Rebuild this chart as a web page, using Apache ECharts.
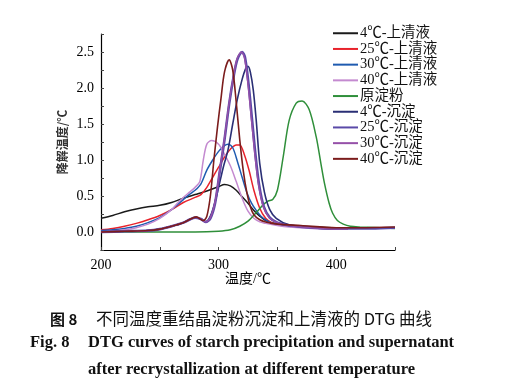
<!DOCTYPE html>
<html><head><meta charset="utf-8">
<script src="https://cdn.jsdelivr.net/npm/echarts@6/dist/echarts.min.js"></script>
<style>html,body{margin:0;padding:0;background:#fff}#c{width:512px;height:388px}</style>
</head><body><div id="c"></div>
<script>
// ---- data ----
const seriesNames = ['4℃-上清液','25℃-上清液','30℃-上清液','40℃-上清液','原淀粉','4℃-沉淀','25℃-沉淀','30℃-沉淀','40℃-沉淀'];

const sup4T = [200,210,220,230,240,250,260,270,280,290,300,305,310,315,320,325,330,335,340,350,360,380,400,410];
const sup4V = [0.19,0.23,0.28,0.32,0.35,0.37,0.41,0.47,0.52,0.57,0.63,0.66,0.64,0.58,0.49,0.40,0.30,0.22,0.16,0.11,0.09,0.07,0.06,0.06];

const sup25T = [200,210,220,230,240,250,260,270,280,285,290,295,300,305,310,315,318,322,326,330,335,340,345,350,360,380,400,410];
const sup25V = [0.03,0.05,0.08,0.12,0.17,0.23,0.31,0.41,0.48,0.52,0.62,0.76,0.90,1.04,1.15,1.21,1.21,1.07,0.85,0.58,0.33,0.19,0.13,0.10,0.08,0.06,0.05,0.05];

const sup30T = [200,210,220,230,240,250,260,265,270,275,280,285,290,295,300,305,308,312,316,320,324,328,332,336,340,345,350,360,380,400,410];
const sup30V = [0.02,0.03,0.05,0.08,0.13,0.20,0.31,0.38,0.45,0.52,0.58,0.67,0.86,1.00,1.12,1.20,1.22,1.17,0.98,0.76,0.55,0.40,0.30,0.22,0.17,0.12,0.10,0.08,0.06,0.05,0.05];

const sup40T = [200,210,220,230,240,250,260,265,270,275,280,284,287,290,294,300,305,310,315,320,325,330,335,340,350,360,380,400,410];
const sup40V = [0.00,0.01,0.03,0.06,0.11,0.19,0.31,0.40,0.48,0.55,0.62,0.70,1.00,1.22,1.27,1.22,1.08,0.92,0.70,0.47,0.29,0.19,0.14,0.12,0.09,0.07,0.05,0.04,0.04];

const rawT = [200,250,280,300,310,318,325,332,338,342,346,350,355,360,366,371,377,383,387,390,394,397,401,406,412,420,450];
const rawV = [0.00,0.00,0.00,0.01,0.03,0.08,0.15,0.27,0.38,0.43,0.45,0.58,1.05,1.55,1.79,1.82,1.70,1.32,0.95,0.68,0.40,0.26,0.16,0.11,0.08,0.07,0.05];

const pre4T = [200,220,240,250,260,270,275,280,285,289,293,297,300,304,308,312,316,320,323,325,327,329.5,332,335,339,343.5,349,360,380,400,410];
const pre4V = [0.00,0.01,0.02,0.04,0.08,0.13,0.17,0.20,0.18,0.14,0.22,0.42,0.62,0.90,1.14,1.50,1.85,2.12,2.27,2.30,2.22,1.97,1.55,0.95,0.55,0.31,0.19,0.10,0.06,0.04,0.04];

const pre25T = [200,220,240,250,260,270,275,280,285,289,293,297,301,305,309,313,316,320,322.5,325.5,328.5,331.5,334.5,338.5,343.5,350,360,380,400,430,450];
const pre25V = [0.00,0.01,0.02,0.04,0.08,0.13,0.17,0.20,0.18,0.14,0.19,0.40,0.84,1.28,1.78,2.18,2.40,2.50,2.42,2.05,1.55,1.05,0.65,0.35,0.20,0.13,0.09,0.06,0.05,0.05,0.06];

const pre30T = [200,220,240,250,260,270,275,280,285,289,293,297,301,305,309,313,316,319.5,322,325,328,331,334,338,343,350,360,380,400,410];
const pre30V = [0.00,0.01,0.02,0.04,0.08,0.13,0.17,0.20,0.18,0.14,0.20,0.42,0.86,1.30,1.80,2.20,2.42,2.50,2.42,2.05,1.55,1.05,0.65,0.35,0.20,0.13,0.09,0.06,0.04,0.04];

const pre40T = [200,220,240,250,260,270,275,281,287,290,293,296,299,302,305,309,312,315,318,321,324,327,330,335,340,350,370,400,420,450];
const pre40V = [0.00,0.01,0.02,0.04,0.08,0.13,0.17,0.21,0.16,0.22,0.50,1.00,1.45,1.85,2.22,2.39,2.25,1.80,1.28,0.85,0.55,0.35,0.24,0.17,0.14,0.11,0.09,0.06,0.06,0.07];

const colors = ['#1a1a1a','#e8222b','#1f5bb0','#c48ad0','#2f8f3a','#2a2f75','#5a4aa8','#9550a8','#7b1c1c'];

const xTickLabels = [200,300,400];
const yTickLabels = [0.0,0.5,1.0,1.5,2.0,2.5];

// ---- chart ----
const allT = [sup4T,sup25T,sup30T,sup40T,rawT,pre4T,pre25T,pre30T,pre40T];
const allV = [sup4V,sup25V,sup30V,sup40V,rawV,pre4V,pre25V,pre30V,pre40V];
const pair = (t,v)=>t.map((x,i)=>[x,v[i]]);
const widths = [1.5,1.5,1.5,1.5,1.5,1.6,2.6,1.4,1.6];

const serif = '"Liberation Serif","Noto Sans CJK SC",serif';
const chart = echarts.init(document.getElementById('c'), null, {renderer:'canvas'});
chart.setOption({
  animation:false,
  color: colors,
  grid:{left:101,right:117,top:34,bottom:138,containLabel:false},
  legend:{
    orient:'vertical', left:328, top:21,
    itemWidth:25, itemHeight:2, itemGap:1.2,
    icon:'rect',
    data: seriesNames,
    textStyle:{fontFamily:serif,fontSize:14.5,lineHeight:13,color:'#111',padding:[0,0,0,-3]},
  },
  xAxis:{
    type:'value', min:200, max:450, interval:50,
    axisLine:{onZero:false,lineStyle:{color:'#000',width:1.2}},
    axisTick:{inside:true,length:3,lineStyle:{color:'#444'}},
    splitLine:{show:false},
    axisLabel:{fontFamily:serif,fontSize:14,color:'#000',margin:8,
      formatter:v=> xTickLabels.indexOf(v)>=0 ? String(v) : ''},
    name:'温度/℃', nameLocation:'middle', nameGap:22, nameMoveOverlap:false,
    nameTextStyle:{fontFamily:serif,fontSize:14,color:'#000'}
  },
  yAxis:{
    type:'value', min:-0.25, max:2.75, interval:0.25,
    axisLine:{show:true,lineStyle:{color:'#000',width:1.2}},
    axisTick:{show:true,inside:true,length:3,lineStyle:{color:'#444'}},
    splitLine:{show:false},
    axisLabel:{fontFamily:serif,fontSize:14,color:'#000',margin:7,
      formatter:v=>{const m=yTickLabels.find(t=>Math.abs(t-v)<1e-6);return m===undefined?'':m.toFixed(1);}},
    name:'降解温度/℃', nameLocation:'middle', nameGap:33, nameMoveOverlap:false,
    nameTextStyle:{fontFamily:'"Noto Sans CJK SC",sans-serif',fontSize:12,fontWeight:'bold',color:'#333'}
  },
  series: seriesNames.map((n,i)=>({
    name:n, type:'line', smooth:0.3, showSymbol:false, symbol:'none',
    data: pair(allT[i],allV[i]),
    lineStyle:{width:widths[i],color:colors[i]},
    z: i+2
  })),
  graphic:[
    {type:'text',x:50,y:319,style:{text:'图 8',font:'bold 15px "Noto Sans CJK SC"',fill:'#111',align:'left',verticalAlign:'middle'}},
    {type:'text',x:96,y:319,style:{text:'不同温度重结晶淀粉沉淀和上清液的 DTG 曲线',font:'16.5px "Noto Sans CJK SC"',fill:'#111',align:'left',verticalAlign:'middle'}},
    {type:'text',x:30,y:343,style:{text:'Fig. 8',font:'bold 16.5px "Liberation Serif"',fill:'#111',align:'left',verticalAlign:'middle'}},
    {type:'text',x:88,y:343,style:{text:'DTG curves of starch precipitation and supernatant',font:'bold 16.5px "Liberation Serif"',fill:'#111',align:'left',verticalAlign:'middle'}},
    {type:'text',x:88,y:370,style:{text:'after recrystallization at different temperature',font:'bold 16.5px "Liberation Serif"',fill:'#111',align:'left',verticalAlign:'middle'}}
  ]
});
</script></body></html>
